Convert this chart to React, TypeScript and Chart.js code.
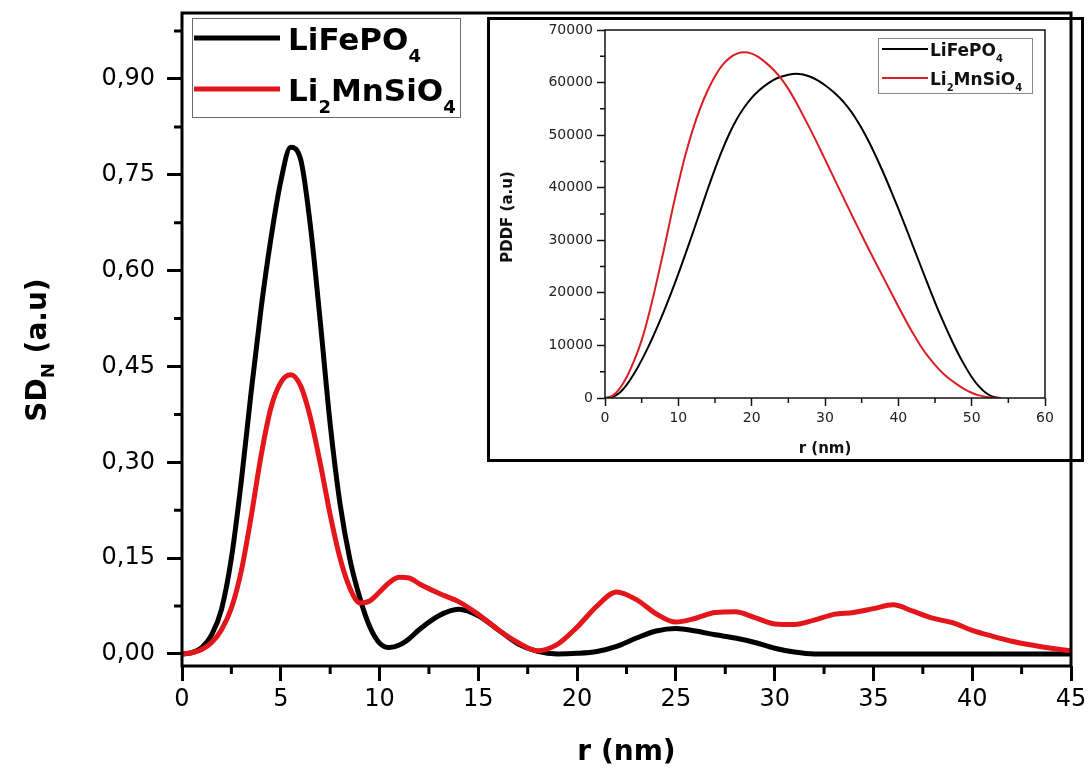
import React, { useEffect, useRef } from 'react';
import { Chart, registerables } from 'chart.js';

Chart.register(...registerables);

// ---------- Main chart data ----------
const rMain = [
  0, 0.5, 1, 1.5, 2, 2.5, 3, 3.5, 4, 4.5, 5, 5.5, 6, 6.5, 7, 7.5, 8, 8.5, 9, 9.5, 10, 10.5, 11, 11.5, 12,
  13, 14, 15, 16, 17, 18, 19, 20, 21, 22, 23, 24, 25, 26, 27, 28, 29, 30, 31, 32, 33, 34, 35, 36, 37, 38, 39,
  40, 41, 42, 43, 44, 45,
];
const sdLiFePO4 = [
  0, 0.002, 0.01, 0.03, 0.07, 0.15, 0.27, 0.41, 0.54, 0.65, 0.74, 0.793, 0.775, 0.67, 0.52, 0.36, 0.235,
  0.148, 0.088, 0.043, 0.017, 0.01, 0.014, 0.024, 0.038,
  0.06, 0.07, 0.06, 0.038, 0.016, 0.004, 0.0, 0.001, 0.004, 0.012, 0.025, 0.036, 0.04, 0.036, 0.03, 0.025,
  0.018, 0.009, 0.003, 0, 0, 0, 0, 0, 0, 0, 0, 0, 0, 0, 0, 0, 0,
];
const sdLi2MnSiO4 = [
  0, 0.002, 0.007, 0.018, 0.038, 0.072, 0.13, 0.215, 0.31, 0.385, 0.425, 0.437, 0.42, 0.37, 0.298, 0.218,
  0.15, 0.103, 0.08, 0.083, 0.097, 0.112, 0.12, 0.119, 0.11,
  0.095, 0.082, 0.062, 0.038, 0.018, 0.005, 0.015, 0.042, 0.075, 0.097, 0.085, 0.063, 0.05, 0.056, 0.065,
  0.066, 0.057, 0.047, 0.046, 0.053, 0.062, 0.065, 0.071, 0.077, 0.067, 0.056, 0.049, 0.037, 0.028, 0.02,
  0.014, 0.009, 0.005,
];
const mainXTicks = [0, 5, 10, 15, 20, 25, 30, 35, 40, 45];
const mainXMinor = [2.5, 7.5, 12.5, 17.5, 22.5, 27.5, 32.5, 37.5, 42.5];
const mainYTicks = [0, 0.15, 0.3, 0.45, 0.6, 0.75, 0.9];
const mainYMinor = [0.075, 0.225, 0.375, 0.525, 0.675, 0.825, 0.975];

// ---------- Inset data ----------
const rPddf = [
  0, 1, 2, 3, 4, 5, 6, 7, 8, 9, 10, 11, 12, 13, 14, 15, 16, 17, 18, 19, 20, 21, 22, 23, 24, 25, 26, 27, 28,
  29, 30, 31, 32, 33, 34, 35, 36, 37, 38, 39, 40, 41, 42, 43, 44, 45, 46, 47, 48, 49, 50, 51, 52, 53, 54,
];
const pddfLiFePO4 = [
  0, 200, 1000, 2600, 4700, 7200, 10000, 13100, 16400, 19900, 23600, 27500, 31500, 35600, 39700, 43600,
  47200, 50400, 53100, 55300, 57100, 58500, 59600, 60500, 61100, 61500, 61700, 61550, 61100, 60400, 59500,
  58400, 57100, 55500, 53600, 51300, 48700, 45800, 42700, 39400, 36000, 32500, 28900, 25300, 21700, 18200,
  14900, 11800, 8900, 6300, 4000, 2200, 900, 200, 0,
];
const pddfLi2MnSiO4 = [
  0, 400, 1800, 4100, 7200, 11000, 16000, 21800, 28000, 34600, 40800, 46400, 51200, 55200, 58500, 61200,
  63300, 64700, 65500, 65750, 65500, 64800, 63700, 62400, 60800, 58800, 56400, 53800, 51100, 48300, 45400,
  42500, 39600, 36700, 33800, 31000, 28200, 25500, 22800, 20100, 17400, 14800, 12300, 10000, 8000, 6300,
  4800, 3600, 2600, 1700, 1000, 500, 200, 50, 0,
];
const insetXTicks = [0, 10, 20, 30, 40, 50, 60];
const insetXMinor = [5, 15, 25, 35, 45, 55];
const insetYTicks = [0, 10000, 20000, 30000, 40000, 50000, 60000, 70000];
const insetYMinor = [5000, 15000, 25000, 35000, 45000, 55000, 65000];

// ---------- Text ----------
const seriesNames = ['LiFePO4', 'Li2MnSiO4'];
const seriesLabels = ['LiFePO_{4}', 'Li_{2}MnSiO_{4}'];
const mainXTitle = 'r (nm)';
const mainYTitle = 'SD_{N} (a.u)';
const insetXTitle = 'r (nm)';
const insetYTitle = 'PDDF (a.u)';

const BLACK = '#000000';
const RED = '#e3161c';
const RED_INSET = '#d71f24';
const FONT = "'DejaVu Sans', 'Liberation Sans', Arial, sans-serif";

type Part = { t: string; sub: boolean };
function parseRich(s: string): Part[] {
  const parts: Part[] = [];
  const re = /_\{([^}]*)\}/g;
  let last = 0;
  let m: RegExpExecArray | null;
  while ((m = re.exec(s))) {
    if (m.index > last) parts.push({ t: s.slice(last, m.index), sub: false });
    parts.push({ t: m[1], sub: true });
    last = re.lastIndex;
  }
  if (last < s.length) parts.push({ t: s.slice(last), sub: false });
  return parts;
}

function drawRich(
  ctx: CanvasRenderingContext2D,
  s: string,
  x: number,
  y: number,
  size: number,
  subSize: number,
  subDrop: number,
  align: 'left' | 'center',
  color: string,
) {
  const parts = parseRich(s);
  const fontMain = `bold ${size}px ${FONT}`;
  const fontSub = `bold ${subSize}px ${FONT}`;
  let total = 0;
  for (const p of parts) {
    ctx.font = p.sub ? fontSub : fontMain;
    total += ctx.measureText(p.t).width;
  }
  let cx = align === 'center' ? x - total / 2 : x;
  ctx.fillStyle = color;
  ctx.textAlign = 'left';
  ctx.textBaseline = 'alphabetic';
  for (const p of parts) {
    ctx.font = p.sub ? fontSub : fontMain;
    ctx.fillText(p.t, cx, p.sub ? y + subDrop : y);
    cx += ctx.measureText(p.t).width;
  }
}

const mainDecor = {
  id: 'mainDecor',
  afterDraw(chart: any) {
    const { ctx, chartArea: a, scales } = chart;
    const xs = scales.x;
    const ys = scales.y;
    ctx.save();
    // minor ticks
    ctx.strokeStyle = BLACK;
    ctx.lineWidth = 3;
    ctx.beginPath();
    for (const v of mainXMinor) {
      const px = xs.getPixelForValue(v);
      ctx.moveTo(px, a.bottom);
      ctx.lineTo(px, a.bottom + 8);
    }
    for (const v of mainYMinor) {
      const py = ys.getPixelForValue(v);
      ctx.moveTo(a.left, py);
      ctx.lineTo(a.left - 8, py);
    }
    ctx.stroke();
    // frame
    ctx.strokeRect(a.left, a.top, a.right - a.left, a.bottom - a.top);

    // axis titles
    drawRich(ctx, mainXTitle, (a.left + a.right) / 2, 760, 28, 18, 8, 'center', BLACK);
    ctx.save();
    ctx.translate(46, 350);
    ctx.rotate(-Math.PI / 2);
    drawRich(ctx, mainYTitle, 0, 0, 28, 18, 8, 'center', BLACK);
    ctx.restore();

    // legend
    const lx = 192, ly = 18, lw = 268, lh = 99;
    ctx.lineWidth = 1;
    ctx.strokeStyle = '#6a6a6a';
    ctx.strokeRect(lx + 0.5, ly + 0.5, lw, lh);
    const rows = [38, 89];
    chart.data.datasets.forEach((ds: any, i: number) => {
      ctx.strokeStyle = ds.borderColor;
      ctx.lineWidth = 5;
      ctx.beginPath();
      ctx.moveTo(194, rows[i]);
      ctx.lineTo(280, rows[i]);
      ctx.stroke();
      drawRich(ctx, seriesLabels[i], 288, rows[i] + 12, 31, 18, 12, 'left', BLACK);
    });
    ctx.restore();
  },
};

const insetDecor = {
  id: 'insetDecor',
  beforeDraw(chart: any) {
    const { ctx, width, height } = chart;
    ctx.save();
    ctx.fillStyle = '#ffffff';
    ctx.fillRect(0, 0, width, height);
    ctx.restore();
  },
  afterDraw(chart: any) {
    const { ctx, chartArea: a, scales, width, height } = chart;
    const xs = scales.x;
    const ys = scales.y;
    ctx.save();
    ctx.strokeStyle = '#111';
    ctx.lineWidth = 1.5;
    ctx.beginPath();
    for (const v of insetXMinor) {
      const px = xs.getPixelForValue(v);
      ctx.moveTo(px, a.bottom);
      ctx.lineTo(px, a.bottom + 5);
    }
    for (const v of insetYMinor) {
      const py = ys.getPixelForValue(v);
      ctx.moveTo(a.left, py);
      ctx.lineTo(a.left - 5, py);
    }
    ctx.stroke();
    ctx.lineWidth = 1.5;
    ctx.strokeRect(a.left, a.top, a.right - a.left, a.bottom - a.top);

    // outer box
    ctx.strokeStyle = BLACK;
    ctx.lineWidth = 3;
    ctx.strokeRect(1.5, 1.5, width - 3, height - 3);

    // titles
    drawRich(ctx, insetXTitle, (a.left + a.right) / 2, 436, 15, 10, 4, 'center', '#111');
    ctx.save();
    ctx.translate(25, 200);
    ctx.rotate(-Math.PI / 2);
    drawRich(ctx, insetYTitle, 0, 0, 15, 10, 4, 'center', '#111');
    ctx.restore();

    // legend
    ctx.lineWidth = 1;
    ctx.strokeStyle = '#8a8a8a';
    ctx.strokeRect(391.5, 21.5, 154, 55);
    const rows = [32, 61];
    chart.data.datasets.forEach((ds: any, i: number) => {
      ctx.strokeStyle = ds.borderColor;
      ctx.lineWidth = 2;
      ctx.beginPath();
      ctx.moveTo(395, rows[i]);
      ctx.lineTo(441, rows[i]);
      ctx.stroke();
      drawRich(ctx, seriesLabels[i], 443, rows[i] + 7, 17, 10, 6, 'left', '#111');
    });
    ctx.restore();
  },
};

function toPoints(xs: number[], ys: number[]) {
  return xs.map((x, i) => ({ x, y: ys[i] }));
}

export default function App() {
  const mainRef = useRef<HTMLCanvasElement>(null);
  const insetRef = useRef<HTMLCanvasElement>(null);

  useEffect(() => {
    const mainCanvas = mainRef.current!;
    const insetCanvas = insetRef.current!;

    const mainChart = new Chart(mainCanvas, {
      type: 'line',
      data: {
        datasets: [
          {
            label: seriesNames[0],
            data: toPoints(rMain, sdLiFePO4),
            borderColor: BLACK,
            borderWidth: 5,
            pointRadius: 0,
            cubicInterpolationMode: 'monotone',
            order: 1,
          },
          {
            label: seriesNames[1],
            data: toPoints(rMain, sdLi2MnSiO4),
            borderColor: RED,
            borderWidth: 5,
            pointRadius: 0,
            cubicInterpolationMode: 'monotone',
            order: 0,
          },
        ],
      },
      options: {
        responsive: false,
        animation: false,
        devicePixelRatio: 1,
        layout: { padding: { left: 0, top: 13, right: 20, bottom: 0 } },
        plugins: { legend: { display: false }, tooltip: { enabled: false } },
        scales: {
          x: {
            type: 'linear',
            min: 0,
            max: 45,
            border: { display: false },
            grid: {
              display: true,
              drawOnChartArea: false,
              drawTicks: true,
              tickLength: 15,
              tickWidth: 3,
              tickColor: BLACK,
              color: BLACK,
            },
            ticks: {
              color: BLACK,
              padding: 4,
              font: { family: FONT, size: 24 },
              maxRotation: 0,
              callback: (v: any) => String(v),
            },
            afterBuildTicks: (s: any) => {
              s.ticks = mainXTicks.map((value) => ({ value }));
            },
            afterFit: (s: any) => {
              s.height = 103;
              s.paddingLeft = 0;
              s.paddingRight = 0;
            },
          },
          y: {
            type: 'linear',
            min: -0.0188,
            max: 1.0033,
            border: { display: false },
            grid: {
              display: true,
              drawOnChartArea: false,
              drawTicks: true,
              tickLength: 15,
              tickWidth: 3,
              tickColor: BLACK,
              color: BLACK,
            },
            ticks: {
              color: BLACK,
              padding: 12,
              font: { family: FONT, size: 24 },
              callback: (v: any) => Number(v).toFixed(2).replace('.', ','),
            },
            afterBuildTicks: (s: any) => {
              s.ticks = mainYTicks.map((value) => ({ value }));
            },
            afterFit: (s: any) => {
              s.width = 182;
              s.paddingTop = 0;
              s.paddingBottom = 0;
            },
          },
        },
      } as any,
      plugins: [mainDecor],
    });

    const insetChart = new Chart(insetCanvas, {
      type: 'line',
      data: {
        datasets: [
          {
            label: seriesNames[0],
            data: toPoints(rPddf, pddfLiFePO4),
            borderColor: BLACK,
            borderWidth: 2,
            pointRadius: 0,
            cubicInterpolationMode: 'monotone',
            order: 1,
          },
          {
            label: seriesNames[1],
            data: toPoints(rPddf, pddfLi2MnSiO4),
            borderColor: RED_INSET,
            borderWidth: 2,
            pointRadius: 0,
            cubicInterpolationMode: 'monotone',
            order: 0,
          },
        ],
      },
      options: {
        responsive: false,
        animation: false,
        devicePixelRatio: 1,
        layout: { padding: { left: 0, top: 13, right: 39, bottom: 0 } },
        plugins: { legend: { display: false }, tooltip: { enabled: false } },
        scales: {
          x: {
            type: 'linear',
            min: 0,
            max: 60,
            border: { display: false },
            grid: {
              display: true,
              drawOnChartArea: false,
              drawTicks: true,
              tickLength: 8,
              tickWidth: 1.5,
              tickColor: '#111',
              color: '#111',
            },
            ticks: {
              color: '#222',
              padding: 4,
              font: { family: FONT, size: 14 },
              maxRotation: 0,
              callback: (v: any) => String(v),
            },
            afterBuildTicks: (s: any) => {
              s.ticks = insetXTicks.map((value) => ({ value }));
            },
            afterFit: (s: any) => {
              s.height = 64;
              s.paddingLeft = 0;
              s.paddingRight = 0;
            },
          },
          y: {
            type: 'linear',
            min: 0,
            max: 70000,
            border: { display: false },
            grid: {
              display: true,
              drawOnChartArea: false,
              drawTicks: true,
              tickLength: 8,
              tickWidth: 1.5,
              tickColor: '#111',
              color: '#111',
            },
            ticks: {
              color: '#222',
              padding: 4,
              font: { family: FONT, size: 14 },
              callback: (v: any) => String(v),
            },
            afterBuildTicks: (s: any) => {
              s.ticks = insetYTicks.map((value) => ({ value }));
            },
            afterFit: (s: any) => {
              s.width = 118;
              s.paddingTop = 0;
              s.paddingBottom = 0;
            },
          },
        },
      } as any,
      plugins: [insetDecor],
    });

    return () => {
      mainChart.destroy();
      insetChart.destroy();
    };
  }, []);

  return (
    <div
      style={{
        position: 'fixed',
        left: 0,
        top: 0,
        width: 1091,
        height: 769,
        background: '#ffffff',
        overflow: 'hidden',
      }}
    >
      <canvas
        ref={insetRef}
        width={597}
        height={445}
        style={{ position: 'absolute', left: 487, top: 17, width: 597, height: 445, zIndex: 1 }}
      />
      <canvas
        ref={mainRef}
        width={1091}
        height={769}
        style={{ position: 'absolute', left: 0, top: 0, width: 1091, height: 769, zIndex: 2 }}
      />
    </div>
  );
}
